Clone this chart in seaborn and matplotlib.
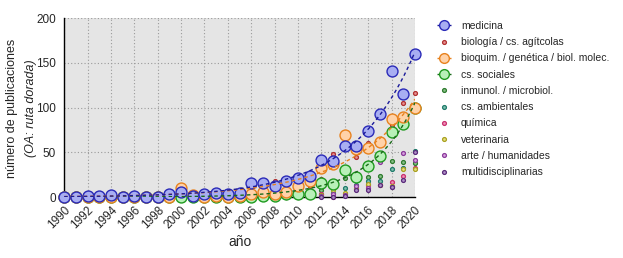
import numpy as np
import pandas as pd
import matplotlib
matplotlib.use("Agg")
import matplotlib.pyplot as plt
from matplotlib.lines import Line2D
import seaborn as sns

years = list(range(1990, 2021))

medicina = [0, 0, 1, 1, 2, 0, 1, 0, 0, 3, 6, 1, 4, 5, 3, 5, 16, 16, 12, 18,
            21, 24, 41, 40, 57, 57, 74, 93, 141, 115, 160]
bioquim = [0, 0, 0, 0, 0, 0, 0, 0, 0, 0, 10, 2, 0, 1, 0, 1, 4, 6, 3, 6,
           12, 18, 33, 37, 69, 54, 55, 62, 87, 90, 99]
sociales = [0, 0, 0, 0, 0, 0, 0, 0, 0, 0, 0, 0, 0, 0, 0, 0, 0, 1, 1, 3,
            4, 4, 16, 15, 30, 23, 35, 46, 73, 82, 100]
biologia = [0, 0, 0, 0, 0, 0, 0, 0, 0, 0, 8, 0, 0, 0, 0, 0, 3, 0, 18, 0,
            8, 12, 20, 48, 62, 45, 61, 62, 81, 105, 116]
inmunol = [0, 0, 0, 0, 0, 0, 0, 0, 0, 0, 0, 0, 0, 0, 0, 0, 0, 0, 0, 0,
           2, 3, 8, 10, 21, 23, 22, 24, 40, 39, 38]
ambientales = [0, 0, 0, 0, 0, 0, 0, 0, 0, 0, 0, 0, 0, 0, 0, 0, 0, 0, 0, 0,
               0, 1, 3, 5, 10, 13, 18, 18, 31, 33, 52]
quimica = [0, 0, 0, 0, 0, 0, 0, 0, 0, 0, 0, 0, 0, 0, 0, 0, 0, 0, 0, 0,
           0, 1, 4, 0, 4, 9, 14, 13, 17, 24, 33]
veterinaria = [0, 0, 0, 0, 0, 0, 0, 0, 0, 0, 0, 0, 0, 0, 0, 0, 0, 0, 0, 0,
               0, 0, 2, 8, 5, 10, 15, 14, 12, 31, 31]
arte = [0, 0, 0, 0, 0, 0, 0, 0, 0, 0, 0, 0, 0, 0, 0, 0, 0, 0, 0, 0,
        0, 0, 1, 4, 2, 12, 10, 39, 11, 49, 42]
multi = [0, 0, 0, 0, 0, 0, 0, 0, 0, 0, 0, 0, 0, 0, 0, 0, 0, 0, 0, 0,
         0, 0, 0, 0, 1, 8, 8, 14, 11, 19, 50]

names = ["medicina", "biología / cs. agítcolas", "bioquim. / genética / biol. molec.",
         "cs. sociales", "inmunol. / microbiol.", "cs. ambientales", "química",
         "veterinaria", "arte / humanidades", "multidisciplinarias"]
series = [medicina, biologia, bioquim, sociales, inmunol, ambientales, quimica,
          veterinaria, arte, multi]
big = {"medicina", "bioquim. / genética / biol. molec.", "cs. sociales"}

edge = {
    "medicina": "#2a2ab8",
    "biología / cs. agítcolas": "#b03030",
    "bioquim. / genética / biol. molec.": "#e8821e",
    "cs. sociales": "#1f9a1f",
    "inmunol. / microbiol.": "#2d7a2d",
    "cs. ambientales": "#1f7a6a",
    "química": "#c8306e",
    "veterinaria": "#a8a020",
    "arte / humanidades": "#8a3a9a",
    "multidisciplinarias": "#5a2a7a",
}
face = {
    "medicina": "#a8aef2",
    "biología / cs. agítcolas": "#e89090",
    "bioquim. / genética / biol. molec.": "#ffd2a8",
    "cs. sociales": "#b8f0b8",
    "inmunol. / microbiol.": "#88c088",
    "cs. ambientales": "#80c0b0",
    "química": "#f090b8",
    "veterinaria": "#e8e080",
    "arte / humanidades": "#d8a0e0",
    "multidisciplinarias": "#b090c8",
}
trend = {
    "medicina": "#1a1a9a",
    "bioquim. / genética / biol. molec.": "#e8821e",
    "cs. sociales": "#1a6a1a",
}

df = pd.DataFrame({
    "year": np.tile(years, len(names)),
    "value": np.concatenate(series),
    "serie": np.repeat(names, len(years)),
})

sns.set_style("white")
plt.rcParams["font.family"] = ["Liberation Sans", "DejaVu Sans"]

fig = plt.figure(figsize=(6.23, 2.58), dpi=100)
ax = fig.add_axes([0.103, 0.236, 0.563, 0.694])
ax.set_facecolor("#e5e5e5")

# trend curves (exponential fits)
tfine = np.linspace(1990, 2020, 200)
trend_rows = []
for nm in ["medicina", "bioquim. / genética / biol. molec.", "cs. sociales"]:
    sub = df[df.serie == nm]
    t = sub.year.values - 1990
    y = sub.value.values.astype(float)
    b, loga = np.polyfit(t[y > 0], np.log(y[y > 0]), 1, w=np.sqrt(y[y > 0]))
    a = np.exp(loga)
    for _ in range(50):
        f = a * np.exp(b * t)
        J = np.column_stack([np.exp(b * t), a * t * np.exp(b * t)])
        r = y - f
        d = np.linalg.lstsq(J, r, rcond=None)[0]
        a += d[0]; b += d[1]
    trend_rows.append(pd.DataFrame({"year": tfine,
                                    "value": a * np.exp(b * (tfine - 1990)),
                                    "serie": nm}))
tdf = pd.concat(trend_rows)

order_draw = [n for n in names if n not in big] + ["cs. sociales",
              "bioquim. / genética / biol. molec.", "medicina"]
for nm in order_draw:
    sub = df[df.serie == nm]
    if nm in big:
        sns.scatterplot(data=sub, x="year", y="value", ax=ax, s=62,
                        color=face[nm], edgecolor=edge[nm], linewidth=1.0,
                        zorder=4, clip_on=False, legend=False)
    else:
        sns.scatterplot(data=sub, x="year", y="value", ax=ax, s=8,
                        color=face[nm], edgecolor=edge[nm], linewidth=0.9,
                        zorder=3, clip_on=False, legend=False)

for nm in ["cs. sociales", "bioquim. / genética / biol. molec.", "medicina"]:
    sub = tdf[tdf.serie == nm]
    sns.lineplot(data=sub, x="year", y="value", ax=ax, color=trend[nm],
                 linewidth=1.0, linestyle=(0, (2.5, 2.2)), zorder=5, legend=False)

ax.set_xlim(1990, 2020)
ax.set_ylim(0, 200)
ax.set_xticks(list(range(1990, 2021, 2)))
ax.set_xticklabels([str(v) for v in range(1990, 2021, 2)], rotation=45,
                   ha="right", rotation_mode="anchor", fontsize=8.5)
ax.set_yticks([0, 50, 100, 150, 200])
ax.tick_params(axis="y", labelsize=8.5, length=0, pad=6)
ax.tick_params(axis="x", length=3, pad=2)
ax.grid(True, color="#9a9a9a", linestyle=(0, (1, 2)), linewidth=0.8)
ax.set_axisbelow(True)
for s in ["top", "right"]:
    ax.spines[s].set_visible(False)
ax.spines["left"].set_color("black")
ax.spines["bottom"].set_color("black")
ax.spines["left"].set_linewidth(1.0)
ax.spines["bottom"].set_linewidth(1.0)

ax.set_xlabel("año", fontsize=10, labelpad=3)
ax.set_ylabel("")
fig.text(0.020, 0.58, "número de publicaciones", rotation=90, fontsize=9,
         ha="center", va="center")
fig.text(0.050, 0.58, "(OA: ruta dorada)", rotation=90, fontsize=9,
         ha="center", va="center", style="italic")

handles = []
for nm in names:
    if nm in big:
        h = Line2D([0], [0], color=trend[nm], linestyle=(0, (2, 1)), linewidth=1.0,
                   marker="o", markersize=7, markerfacecolor=face[nm],
                   markeredgecolor=edge[nm], markeredgewidth=1.0)
    else:
        h = Line2D([0], [0], linestyle="none", marker="o", markersize=2.8,
                   markerfacecolor=face[nm], markeredgecolor=edge[nm],
                   markeredgewidth=0.9)
    handles.append(h)
leg = fig.legend(handles, names, loc="upper left", bbox_to_anchor=(0.695, 0.935),
                 frameon=False, fontsize=7.5, handlelength=1.3, handletextpad=1.0,
                 labelspacing=0.6, borderaxespad=0)

fig.savefig("out.png", dpi=100)
